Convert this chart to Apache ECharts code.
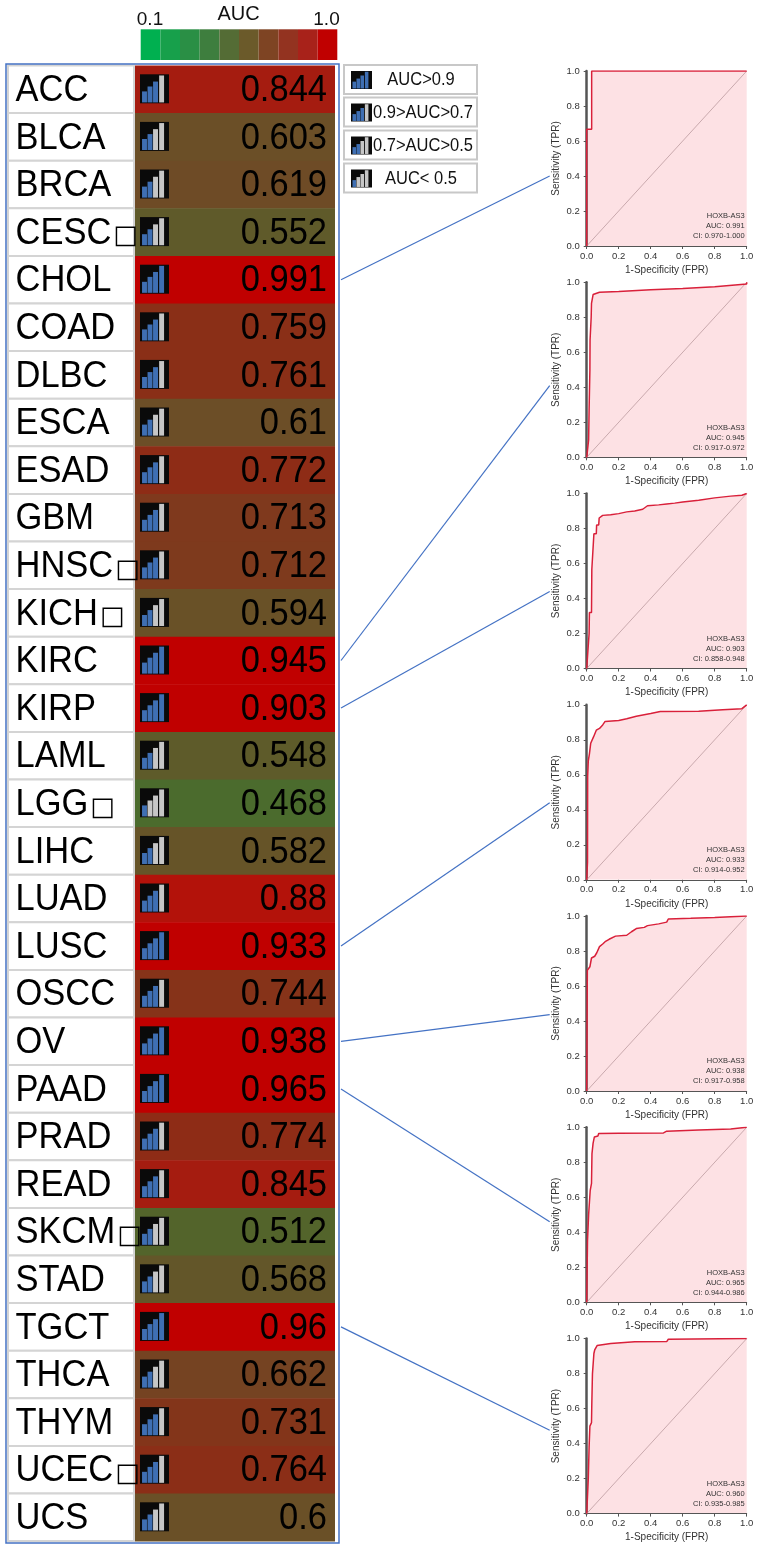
<!DOCTYPE html>
<html><head><meta charset="utf-8">
<script src="https://cdn.jsdelivr.net/npm/echarts@6/dist/echarts.min.js"></script>
<style>html,body{margin:0;padding:0;background:#fff}#c{width:758px;height:1549px}</style>
</head><body><div id="c"></div>
<script>
// ---------------- data ----------------
const cancers = ['ACC','BLCA','BRCA','CESC□','CHOL','COAD','DLBC','ESCA','ESAD','GBM','HNSC□','KICH□','KIRC','KIRP','LAML','LGG□','LIHC','LUAD','LUSC','OSCC','OV','PAAD','PRAD','READ','SKCM□','STAD','TGCT','THCA','THYM','UCEC□','UCS'];
const aucValues = [0.844,0.603,0.619,0.552,0.991,0.759,0.761,0.61,0.772,0.713,0.712,0.594,0.945,0.903,0.548,0.468,0.582,0.88,0.933,0.744,0.938,0.965,0.774,0.845,0.512,0.568,0.96,0.662,0.731,0.764,0.6];
const colorbarColors = ['#00b050','#17a04b','#2a8f45','#3e7e3e','#546c35','#6b5a2a','#7e4423','#933320','#a8221a','#c00000'];
const colorbarLabels = ['0.1','AUC','1.0'];
const legendLabels = ['AUC>0.9','0.9>AUC>0.7','0.7>AUC>0.5','AUC< 0.5'];
const gene = 'HOXB-AS3';
const rocCancers = ['CHOL','KIRC','KIRP','LUSC','OV','PAAD','TGCT'];
const rocAUC = ['0.991','0.945','0.903','0.933','0.938','0.965','0.960'];
const rocCI = ['0.970-1.000','0.917-0.972','0.858-0.948','0.914-0.952','0.917-0.958','0.944-0.986','0.935-0.985'];
const rocCHOL = [[0,0],[0,0.667],[0.031,0.667],[0.031,1],[1,1]];
const rocKIRC = [[0,0],[0.01,0],[0.012,0.1],[0.015,0.27],[0.018,0.27],[0.02,0.5],[0.021,0.67],[0.027,0.67],[0.028,0.8],[0.03,0.88],[0.035,0.88],[0.04,0.93],[0.05,0.94],[0.08,0.943],[0.2,0.948],[0.4,0.958],[0.6,0.965],[0.8,0.975],[1,0.99],[1,1]];
const rocKIRP = [[0,0],[0.01,0],[0.015,0.2],[0.017,0.32],[0.03,0.32],[0.032,0.566],[0.04,0.566],[0.045,0.77],[0.06,0.77],[0.062,0.82],[0.075,0.82],[0.078,0.86],[0.085,0.87],[0.1,0.875],[0.15,0.878],[0.2,0.885],[0.25,0.895],[0.3,0.9],[0.35,0.91],[0.38,0.93],[0.45,0.935],[0.5,0.94],[0.55,0.945],[0.6,0.952],[0.7,0.962],[0.8,0.975],[0.9,0.985],[0.97,0.99],[1,1]];
const rocLUSC = [[0,0],[0.005,0.1],[0.006,0.59],[0.01,0.68],[0.017,0.72],[0.025,0.78],[0.042,0.815],[0.06,0.855],[0.08,0.865],[0.1,0.885],[0.115,0.905],[0.2,0.91],[0.25,0.92],[0.31,0.935],[0.4,0.95],[0.46,0.962],[0.7,0.963],[0.85,0.972],[0.97,0.978],[1,1]];
const rocOV = [[0,0],[0.004,0.69],[0.02,0.71],[0.03,0.76],[0.05,0.77],[0.063,0.79],[0.08,0.825],[0.1,0.84],[0.115,0.853],[0.14,0.867],[0.18,0.885],[0.25,0.89],[0.28,0.91],[0.31,0.928],[0.36,0.935],[0.38,0.945],[0.45,0.955],[0.5,0.965],[0.51,0.983],[0.65,0.987],[0.8,0.992],[1,1]];
const rocPAAD = [[0,0],[0.005,0.35],[0.01,0.36],[0.012,0.5],[0.02,0.5],[0.022,0.64],[0.03,0.68],[0.033,0.85],[0.04,0.91],[0.048,0.945],[0.07,0.95],[0.075,0.965],[0.2,0.966],[0.48,0.968],[0.5,0.978],[0.7,0.985],[0.9,0.99],[1,1]];
const rocTGCT = [[0,0],[0.01,0.2],[0.015,0.38],[0.02,0.5],[0.03,0.52],[0.032,0.63],[0.036,0.8],[0.045,0.915],[0.05,0.935],[0.065,0.96],[0.075,0.968],[0.15,0.972],[0.3,0.982],[0.5,0.983],[0.51,0.996],[1,1]];
const rocCurves = [rocCHOL, rocKIRC, rocKIRP, rocLUSC, rocOV, rocPAAD, rocTGCT];

// ---------------- style ----------------
const FONT = '"Liberation Sans", Arial, "DejaVu Sans", sans-serif';
const LABEL_SIZE = 34.5;
const aucColorStops = [[0.1,'#00b050'],[0.45,'#48702f'],[0.47,'#4b6b2d'],[0.51,'#52642b'],[0.55,'#5f5a2a'],[0.6,'#6a5027'],[0.62,'#6e4b26'],[0.66,'#754322'],[0.71,'#7e3a1d'],[0.76,'#8a2f17'],[0.845,'#a51c10'],[0.88,'#b3120a'],[0.9,'#c00000'],[1.0,'#c00000']];
function hex(c){return [parseInt(c.slice(1,3),16),parseInt(c.slice(3,5),16),parseInt(c.slice(5,7),16)];}
function aucColor(v){
  const s = aucColorStops;
  if (v <= s[0][0]) return s[0][1];
  for (let i = 1; i < s.length; i++) {
    if (v <= s[i][0]) {
      const t = (v - s[i-1][0]) / (s[i][0] - s[i-1][0]);
      const a = hex(s[i-1][1]), b = hex(s[i][1]);
      return 'rgb(' + a.map((x,j)=>Math.round(x + (b[j]-x)*t)).join(',') + ')';
    }
  }
  return s[s.length-1][1];
}
function level(v){ return v > 0.9 ? 4 : v > 0.7 ? 3 : v > 0.5 ? 2 : 1; }
function makeIcon(x, y, w, h, lv){
  const bx = [0.07,0.26,0.45,0.66], bh = [0.38,0.55,0.72,0.93];
  const ch = [{type:'rect', shape:{x:x,y:y,width:w,height:h}, style:{fill:'#0a0a0a'}}];
  for (let i = 0; i < 4; i++) {
    ch.push({type:'rect', shape:{x:x+bx[i]*w, y:y+h*0.97-bh[i]*h, width:0.17*w, height:bh[i]*h},
      style:{fill: i < lv ? '#3f6fb3' : '#c6c6c6'}});
  }
  return {type:'group', children: ch};
}
const measureCtx = document.createElement('canvas').getContext('2d');
function textWidth(t, size){
  measureCtx.font = size + 'px ' + FONT;
  return measureCtx.measureText(t).width;
}

const rocTops = [71, 282.3, 493.5, 704.8, 916, 1127.3, 1338.6];
const rocLeft = 586.7, rocW = 160, rocH = 175;
const connectorY = [0.40, 0.41, 0.44, 0.44, 0.436, 0.46, 0.476];

const chart = echarts.init(document.getElementById('c'));

const grids = [
  {left:8, top:65.5, width:327, height:1475.6, outerBoundsMode:'none'},
  {left:140.7, top:29.3, width:196.6, height:30.7, outerBoundsMode:'none'}
];
const xAxes = [
  {gridIndex:0, type:'value', min:0, max:1, show:false},
  {gridIndex:1, type:'category', data:colorbarColors.map((c,i)=>i), show:false}
];
const yAxes = [
  {gridIndex:0, type:'category', data:cancers, inverse:true, show:false},
  {gridIndex:1, type:'value', min:0, max:1, show:false}
];
const series = [];

function labelText(x, y, text, size, align){
  return {type:'text', x:x, y:y, scaleY:1.08,
    style:{text:text, fontSize:size, fontFamily:FONT, fill:'#000', textAlign:align, textVerticalAlign:'middle', align:align, verticalAlign:'middle'}};
}

series.push({
  type:'custom', xAxisIndex:0, yAxisIndex:0, coordinateSystem:'cartesian2d',
  encode:{x:0, y:1},
  data: cancers.map((c,i)=>[aucValues[i], i]),
  renderItem: function(params, api){
    const v = api.value(0), i = api.value(1);
    const cs = params.coordSys;
    const cy = api.coord([0, i])[1];
    const rh = api.size([0, 1])[1];
    const top = cy - rh/2;
    const full = cancers[i];
    const hasBox = full.endsWith('□');
    const name = hasBox ? full.slice(0, -1) : full;
    const children = [
      {type:'rect', shape:{x:cs.x, y:top, width:126, height:rh}, style:{fill:'#fff', stroke:'#d4d4d4', lineWidth:2}},
      {type:'rect', shape:{x:cs.x+127, y:top, width:cs.width-127, height:rh+0.5}, style:{fill:aucColor(v)}},
      makeIcon(cs.x+132, cy-15, 29, 29, level(v)),
      labelText(cs.x+7.5, cy+1.5, name, LABEL_SIZE, 'left'),
      labelText(cs.x+319, cy+1.5, String(aucValues[i]), LABEL_SIZE, 'right')
    ];
    if (hasBox) {
      const w = textWidth(name, LABEL_SIZE);
      children.push({type:'text', x:cs.x+7.5+w+2, y:cy+4.5,
        style:{text:'□', fontSize:26, fontFamily:'"DejaVu Sans", sans-serif', fill:'#000', textAlign:'left', textVerticalAlign:'middle', align:'left', verticalAlign:'middle'}});
    }
    return {type:'group', children: children};
  },
  z:2
});

series.push({
  type:'bar', xAxisIndex:1, yAxisIndex:1, barWidth:'100%', barCategoryGap:'0%',
  data: colorbarColors.map(c=>({value:1, itemStyle:{color:c}})),
  silent:true
});

rocCurves.forEach((curve, k)=>{
  const g = k + 2;
  grids.push({left:rocLeft, top:rocTops[k], width:rocW, height:rocH, outerBoundsMode:'none'});
  xAxes.push({gridIndex:g, type:'value', min:0, max:1, interval:0.2, z:2,
    name:'1-Specificity (FPR)', nameLocation:'middle', nameGap:19,
    nameTextStyle:{fontSize:10, color:'#333', fontFamily:FONT},
    axisLine:{show:true, onZero:false, lineStyle:{color:'#555', width:1}},
    axisTick:{show:true, length:3, lineStyle:{color:'#555'}},
    axisLabel:{show:true, fontSize:9.5, color:'#333', margin:5, fontFamily:FONT, formatter:v=>v.toFixed(1), showMinLabel:true, showMaxLabel:true},
    splitLine:{show:false}});
  yAxes.push({gridIndex:g, type:'value', min:0, max:1, interval:0.2, z:2,
    name:'Sensitivity (TPR)', nameLocation:'middle', nameGap:25, nameRotate:90,
    nameTextStyle:{fontSize:10, color:'#333', fontFamily:FONT},
    axisLine:{show:true, onZero:false, lineStyle:{color:'#555', width:2.5}},
    axisTick:{show:true, length:3, lineStyle:{color:'#555'}},
    axisLabel:{show:true, fontSize:9.5, color:'#333', margin:7, fontFamily:FONT, formatter:v=>v.toFixed(1), showMinLabel:true, showMaxLabel:true},
    splitLine:{show:false}});
  series.push({type:'line', xAxisIndex:g, yAxisIndex:g, data:curve, showSymbol:false, symbol:'none',
    lineStyle:{width:0, opacity:0}, areaStyle:{color:'#fde1e4', opacity:1}, z:1, silent:true});
  series.push({type:'line', xAxisIndex:g, yAxisIndex:g, data:[[0,0],[1,1]], showSymbol:false, symbol:'none',
    lineStyle:{color:'#c9a9ad', width:1}, z:3, silent:true});
  series.push({type:'line', xAxisIndex:g, yAxisIndex:g, data:curve, showSymbol:false, symbol:'none',
    lineStyle:{color:'#d9203a', width:1.5}, z:4, silent:true});
});

chart.setOption({
  animation:false,
  backgroundColor:'#fff',
  grid:grids, xAxis:xAxes, yAxis:yAxes, series:series
});

// ---------------- graphic overlay ----------------
const gr = [];
gr.push({type:'rect', shape:{x:6, y:64, width:333, height:1479}, style:{fill:'none', stroke:'#4472c4', lineWidth:1.5}, z:10});
gr.push({type:'text', x:150, y:20, style:{text:colorbarLabels[0], fontSize:19, fontFamily:FONT, fill:'#111', textAlign:'center', textVerticalAlign:'middle', align:'center', verticalAlign:'middle'}});
gr.push({type:'text', x:238.5, y:14.5, style:{text:colorbarLabels[1], fontSize:20, fontFamily:FONT, fill:'#111', textAlign:'center', textVerticalAlign:'middle', align:'center', verticalAlign:'middle'}});
gr.push({type:'text', x:326.5, y:19.5, style:{text:colorbarLabels[2], fontSize:19, fontFamily:FONT, fill:'#111', textAlign:'center', textVerticalAlign:'middle', align:'center', verticalAlign:'middle'}});
const legTops = [65, 97.5, 130.5, 163.5];
legendLabels.forEach((t, i)=>{
  const top = legTops[i];
  gr.push({type:'rect', shape:{x:344, y:top, width:133, height:29}, style:{fill:'#fff', stroke:'#c8c8c8', lineWidth:2}});
  gr.push(makeIcon(351, top+6, 21, 18, 4 - i));
  const centered = (i === 0 || i === 3);
  gr.push({type:'text', x: centered ? 421 : 373, y: top+15, scaleY:1.15,
    style:{text:t, fontSize:16.5, fontFamily:FONT, fill:'#111', textAlign: centered ? 'center':'left', textVerticalAlign:'middle', align: centered ? 'center':'left', verticalAlign:'middle'}});
});
rocCancers.forEach((name, k)=>{
  const g = k + 2;
  const row = cancers.indexOf(name);
  const s = chart.convertToPixel({gridIndex:0}, [1, row]);
  const e = chart.convertToPixel({xAxisIndex:g, yAxisIndex:g}, [0, connectorY[k]]);
  gr.push({type:'line', shape:{x1:341, y1:s[1], x2:e[0]-37, y2:e[1]}, style:{stroke:'#4472c4', lineWidth:1.2}, z:5});
  const lines = [gene, 'AUC: ' + rocAUC[k], 'CI: ' + rocCI[k]];
  const ys = [0.17, 0.113, 0.055];
  lines.forEach((t, j)=>{
    const p = chart.convertToPixel({xAxisIndex:g, yAxisIndex:g}, [0.9875, ys[j]]);
    gr.push({type:'text', x:p[0], y:p[1], style:{text:t, fontSize:7.5, fontFamily:FONT, fill:'#333', textAlign:'right', textVerticalAlign:'middle', align:'right', verticalAlign:'middle'}, z:20});
  });
});
chart.setOption({graphic:{elements:gr}});
</script>
</body></html>
